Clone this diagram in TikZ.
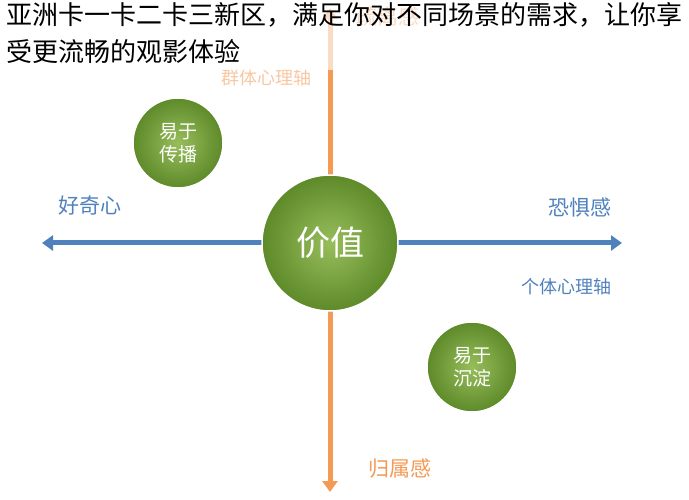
\documentclass[tikz,border=0pt]{standalone}
\usepackage{fontspec}
\setmainfont{Noto Sans CJK SC}
\usetikzlibrary{arrows.meta}
\definecolor{ablue}{HTML}{4F81BD}
\definecolor{aorange}{HTML}{F39A55}
\definecolor{ggreen}{HTML}{86B23E}
\definecolor{gdark}{HTML}{5E8A2A}
\begin{document}
\begin{tikzpicture}[x=1pt,y=-1pt,
  axis/.style={line width=5pt,-{Triangle[width=15pt,length=11pt]}},
  ball/.style={circle,shade,inner color=ggreen!85!white,outer color=gdark,draw=white,line width=1.5pt,text=white,align=center},
  lbl/.style={font=\fontsize{21}{24}\selectfont}]
\useasboundingbox (0,0) rectangle (689,500);
\coordinate (c) at (330,243);
\coordinate (tp) at (330,8);
\coordinate (bt) at (330,492);
\coordinate (lf) at (42,243);
\coordinate (rt) at (622,243);
\draw[axis,aorange] (c) -- (tp);
\draw[axis,aorange] (c) -- (bt);
\draw[axis,ablue] (c) -- (lf);
\draw[axis,ablue] (c) -- (rt);
\node[ball,minimum size=136pt,font=\fontsize{34}{36}\selectfont] (v) at (c) {价值};
\node[ball,minimum size=90pt,font=\fontsize{19}{23}\selectfont] (s1) at (178,143) {易于\\传播};
\node[ball,minimum size=90pt,font=\fontsize{19}{23}\selectfont] (s2) at (472,367) {易于\\沉淀};
\node[lbl,text=ablue] (l1) at (90,206) {好奇心};
\node[lbl,text=ablue] (l2) at (580,208) {恐惧感};
\node[text=ablue,font=\fontsize{18}{20}\selectfont] (l3) at (566,287) {个体心理轴};
\node[lbl,text=aorange] (l4) at (400,469) {归属感};
\node[lbl,text=aorange] (l5) at (388,16) {疏离感};
\node[text=aorange,font=\fontsize{18}{20}\selectfont] (l6) at (266,78) {群体心理轴};
\fill[white,opacity=0.65] (0,0) rectangle (689,70);
\fill[white,opacity=0.45] (200,62) rectangle (325,92);
\node[anchor=north west,align=left,font=\fontsize{26}{37}\selectfont,inner sep=0pt] (t) at (6,2) {亚洲卡一卡二卡三新区，满足你对不同场景的需求，让你享\\受更流畅的观影体验};
\end{tikzpicture}
\end{document}
